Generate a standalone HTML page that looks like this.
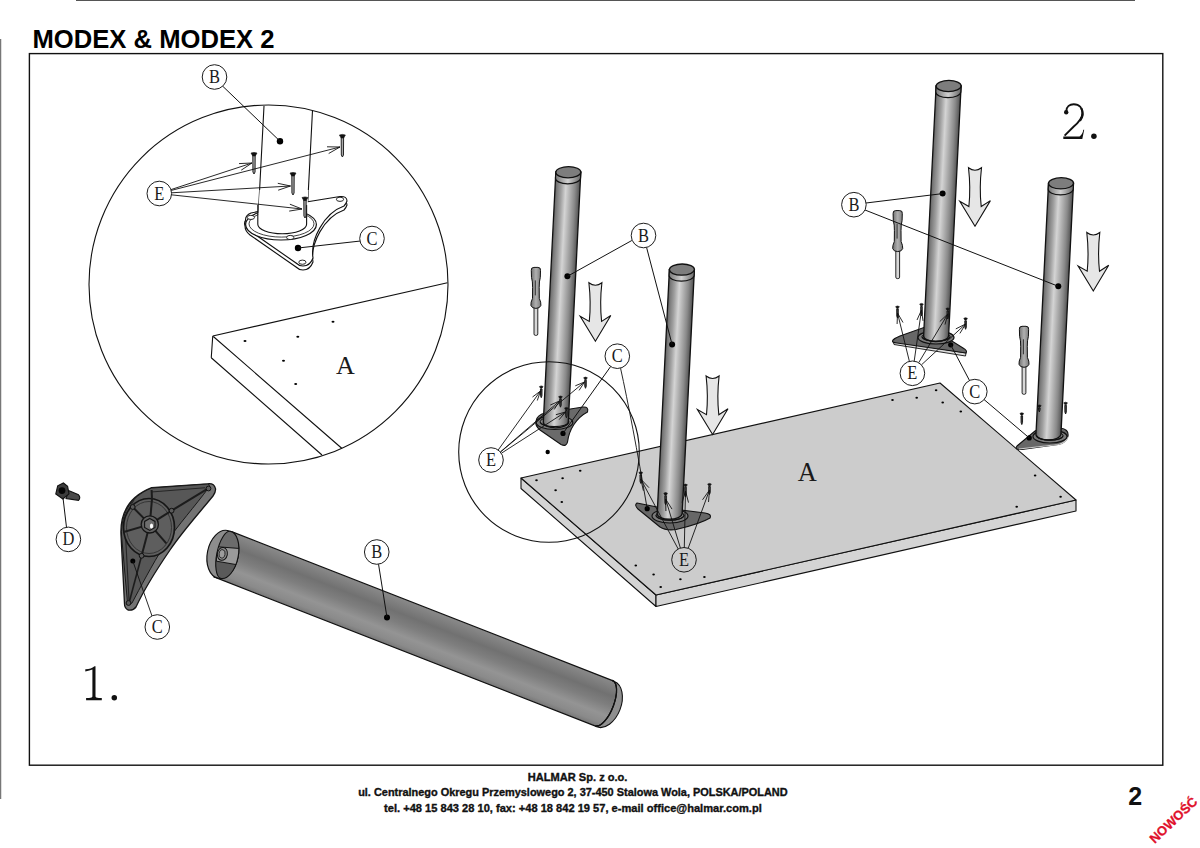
<!DOCTYPE html>
<html><head><meta charset="utf-8"><title>MODEX &amp; MODEX 2</title>
<style>html,body{margin:0;padding:0;background:#fff;width:1200px;height:848px;overflow:hidden}svg{display:block}
</style></head>
<body><svg width="1200" height="848" viewBox="0 0 1200 848">
<defs>
<linearGradient id="legg" x1="0" y1="0" x2="1" y2="0">
<stop offset="0" stop-color="#5e5e5e"/><stop offset="0.08" stop-color="#7a7a7a"/><stop offset="0.25" stop-color="#a0a0a0"/>
<stop offset="0.43" stop-color="#d4d4d4"/><stop offset="0.6" stop-color="#b2b2b2"/><stop offset="0.8" stop-color="#8a8a8a"/><stop offset="0.93" stop-color="#666"/><stop offset="1" stop-color="#4a4a4a"/>
</linearGradient>
<linearGradient id="bandg" x1="0" y1="0" x2="1" y2="0">
<stop offset="0" stop-color="#777"/><stop offset="0.5" stop-color="#d0d0d0"/><stop offset="1" stop-color="#6a6a6a"/>
</linearGradient>
<linearGradient id="hcyl" x1="0" y1="0" x2="0" y2="1">
<stop offset="0" stop-color="#8a8a8a"/><stop offset="0.3" stop-color="#717171"/><stop offset="0.5" stop-color="#7e7e7e"/>
<stop offset="0.72" stop-color="#949494"/><stop offset="0.9" stop-color="#8a8a8a"/><stop offset="1" stop-color="#777"/>
</linearGradient>
<linearGradient id="sd" x1="0" y1="0" x2="1" y2="0">
<stop offset="0" stop-color="#6e6e6e"/><stop offset="0.5" stop-color="#b0b0b0"/><stop offset="1" stop-color="#7a7a7a"/>
</linearGradient>
</defs>
<rect x="0" y="0" width="1200" height="848" fill="#fff"/>
<line x1="76" y1="0.5" x2="1135" y2="0.5" stroke="#555" stroke-width="1.2"/>
<line x1="0.6" y1="39" x2="0.6" y2="799" stroke="#777" stroke-width="1.3"/>
<text x="32.5" y="47.8" font-family="Liberation Sans, sans-serif" font-weight="bold" font-size="25" fill="#000" textLength="242" lengthAdjust="spacingAndGlyphs">MODEX &amp; MODEX 2</text>
<rect x="29.4" y="53.6" width="1133.4" height="711.6" fill="none" stroke="#111" stroke-width="1.4"/>
<circle cx="268.5" cy="284.5" r="179.5" fill="none" stroke="#111" stroke-width="1.1"/>
<path d="M212.75,336 L447.4,282.7 M212.75,336 L211.25,357.75 M212.75,336 L342,448.5 M211.25,357.75 L322,455" fill="none" stroke="#111" stroke-width="1.1"/>
<ellipse cx="245" cy="341" rx="1.5" ry="1.1" fill="#000"/>
<ellipse cx="297.8" cy="336.75" rx="1.5" ry="1.1" fill="#000"/>
<ellipse cx="333" cy="321.75" rx="1.5" ry="1.1" fill="#000"/>
<ellipse cx="283.5" cy="360.75" rx="1.5" ry="1.1" fill="#000"/>
<ellipse cx="295.7" cy="384" rx="1.5" ry="1.1" fill="#000"/>
<text x="345.5" y="373.8" font-family="Liberation Serif, serif" font-size="26" text-anchor="middle" fill="#1a1a1a">A</text>
<path d="M264,106 L257.8,224.3 M312.5,110.5 L306.6,224.3" fill="none" stroke="#111" stroke-width="1.1"/>
<path d="M245,226 Q243,220 250,217 L300,207 L340,200.5 Q347,200 347,205 Q346,208 344,210 C324,217 310,244 313,262 Q310,270 303,270 Q299,270 296,267 L250,235 Q245,231 245,226 Z" fill="#fff" stroke="#111" stroke-width="1.1"/>
<path d="M246,222 Q244,216 251,213 L300,203 L340,196.5 Q347,196 347,201 Q346,204 344,206 C324,213 310,240 313,258 Q310,266 303,266 Q299,266 296,263 L250,231 Q245,227 246,222 Z" fill="#fff" stroke="#111" stroke-width="1.1"/>
<ellipse cx="281" cy="224.5" rx="35.4" ry="15.5" fill="#fff" stroke="#111" stroke-width="1.2"/>
<ellipse cx="281.5" cy="223.8" rx="32.5" ry="13.3" fill="none" stroke="#111" stroke-width="0.8"/>
<path d="M259.6,190 L257.8,224.3 A24.4,9.5 0 0 0 306.6,224.3 L308.4,190 Z" fill="#fff" stroke="none"/>
<path d="M257.8,205 L257.8,224.3 A24.4,9.5 0 0 0 306.6,224.3 L306.6,205" fill="none" stroke="#111" stroke-width="1.1"/>
<ellipse cx="250.9" cy="217.4" rx="3.6" ry="2.1" fill="#fff" stroke="#111" stroke-width="0.9"/>
<ellipse cx="290.2" cy="237.5" rx="3.6" ry="2.1" fill="#fff" stroke="#111" stroke-width="0.9"/>
<ellipse cx="302.4" cy="262.2" rx="3.6" ry="2.1" fill="#fff" stroke="#111" stroke-width="0.9"/>
<ellipse cx="340" cy="199.3" rx="3.6" ry="2.1" fill="#fff" stroke="#111" stroke-width="0.9"/>
<path d="M252.8,155.5 L252.92,172 L254,174 L255.08,172 L255.2,155.5 Z" fill="#aaa" stroke="#111" stroke-width="0.9"/>
<path d="M251,153 Q254,151.8 257,153 L255.29,156 L252.71,156 Z" fill="#111" stroke="#111" stroke-width="0.6"/>
<path d="M341.2,137.5 L341.32,155 L342.4,157 L343.47999999999996,155 L343.59999999999997,137.5 Z" fill="#aaa" stroke="#111" stroke-width="0.9"/>
<path d="M339.4,135 Q342.4,133.8 345.4,135 L343.69,138 L341.10999999999996,138 Z" fill="#111" stroke="#111" stroke-width="0.6"/>
<path d="M291.8,175.5 L291.92,193 L293,195 L294.08,193 L294.2,175.5 Z" fill="#aaa" stroke="#111" stroke-width="0.9"/>
<path d="M290,173 Q293,171.8 296,173 L294.29,176 L291.71,176 Z" fill="#111" stroke="#111" stroke-width="0.6"/>
<path d="M303.8,200.0 L303.92,216 L305,218 L306.08,216 L306.2,200.0 Z" fill="#aaa" stroke="#111" stroke-width="0.9"/>
<path d="M302,197.5 Q305,196.3 308,197.5 L306.29,200.5 L303.71,200.5 Z" fill="#111" stroke="#111" stroke-width="0.6"/>
<line x1="170.7" y1="189.7" x2="252" y2="163" stroke="#111" stroke-width="0.9"/>
<line x1="252" y1="163" x2="241.2" y2="170.2" stroke="#111" stroke-width="0.9"/>
<line x1="252" y1="163" x2="239.0" y2="163.6" stroke="#111" stroke-width="0.9"/>
<line x1="170.9" y1="190.5" x2="340" y2="147" stroke="#111" stroke-width="0.9"/>
<line x1="340" y1="147" x2="328.7" y2="153.5" stroke="#111" stroke-width="0.9"/>
<line x1="340" y1="147" x2="327.0" y2="146.8" stroke="#111" stroke-width="0.9"/>
<line x1="171.3" y1="192.8" x2="290.5" y2="186" stroke="#111" stroke-width="0.9"/>
<line x1="290.5" y1="186" x2="278.2" y2="190.2" stroke="#111" stroke-width="0.9"/>
<line x1="290.5" y1="186" x2="277.8" y2="183.3" stroke="#111" stroke-width="0.9"/>
<line x1="171.2" y1="194.8" x2="302" y2="209" stroke="#111" stroke-width="0.9"/>
<line x1="302" y1="209" x2="289.2" y2="211.1" stroke="#111" stroke-width="0.9"/>
<line x1="302" y1="209" x2="289.9" y2="204.2" stroke="#111" stroke-width="0.9"/>
<circle cx="159.3" cy="193.5" r="12.3" fill="#fff" stroke="#111" stroke-width="0.95"/>
<text transform="translate(159.3,199.5) scale(0.9,1)" x="0" y="0" font-family="Liberation Serif, serif" font-size="18.3" text-anchor="middle" fill="#1a1a1a">E</text>
<circle cx="280" cy="141.2" r="3.2" fill="#000"/>
<line x1="222.5" y1="86" x2="280" y2="141.2" stroke="#111" stroke-width="1.0"/>
<circle cx="214.5" cy="77" r="12.3" fill="#fff" stroke="#111" stroke-width="0.95"/>
<text transform="translate(214.5,83.0) scale(0.9,1)" x="0" y="0" font-family="Liberation Serif, serif" font-size="18.3" text-anchor="middle" fill="#1a1a1a">B</text>
<circle cx="298" cy="248" r="3.2" fill="#000"/>
<line x1="298" y1="248" x2="360.5" y2="241" stroke="#111" stroke-width="1.0"/>
<circle cx="372" cy="238.5" r="12.3" fill="#fff" stroke="#111" stroke-width="0.95"/>
<text transform="translate(372,244.5) scale(0.9,1)" x="0" y="0" font-family="Liberation Serif, serif" font-size="18.3" text-anchor="middle" fill="#1a1a1a">C</text>
<path d="M68.5,490.5 L78.5,494.8 Q81,497.5 78.5,500.3 L66,498.5 Z" fill="#4a4a4a" stroke="#111" stroke-width="1.1"/>
<polygon points="55.8,493.9 57.7,485.8 63.4,483 67.6,486.3 69,493.9 62.9,499" fill="#3c3c3c" stroke="#111" stroke-width="1.1"/>
<circle cx="62" cy="490.6" r="3.4" fill="#050505"/>
<line x1="63.1" y1="498.6" x2="66.5" y2="527.4" stroke="#111" stroke-width="1.0"/>
<circle cx="68.4" cy="539.4" r="12.3" fill="#fff" stroke="#111" stroke-width="0.95"/>
<text transform="translate(68.4,545.4) scale(0.9,1)" x="0" y="0" font-family="Liberation Serif, serif" font-size="18.3" text-anchor="middle" fill="#1a1a1a">D</text>
<path d="M151.7,487.7 L207.8,483.8 Q214,483 215.5,488.6 Q216,492 213,496 C200,512 182,532 170,550 C155,572 142,594 136,607 Q133,611 128,610 Q124.5,608 124.5,604 L121,535 C120,515 128,497 151.7,487.7 Z" fill="#737373" stroke="#151515" stroke-width="1.3"/>
<path d="M151.7,488 L207.8,484 Q211,484.5 208,488.5 C196,505 178,525 164.5,545 C152,565 140,588 132,603 Q129,606 127.5,603 L121.5,535 C121,515 129,497 151.7,488 Z" fill="#575757" stroke="#1a1a1a" stroke-width="1"/>
<path d="M151,492 L205,487.8 M134,500 C127,510 125,522 125.5,535 L129,600" fill="none" stroke="#262626" stroke-width="1.1"/>
<ellipse cx="149" cy="527.5" rx="25.5" ry="29" fill="#5e5e5e" stroke="#161616" stroke-width="1.7"/>
<ellipse cx="149" cy="527.5" rx="22.5" ry="26" fill="none" stroke="#2a2a2a" stroke-width="0.8"/>
<line x1="149.8" y1="524.4" x2="132.7" y2="507" stroke="#1c1c1c" stroke-width="2.0"/>
<line x1="149.8" y1="524.4" x2="171.6" y2="510.7" stroke="#1c1c1c" stroke-width="2.0"/>
<line x1="149.8" y1="524.4" x2="166.3" y2="543.4" stroke="#1c1c1c" stroke-width="2.0"/>
<line x1="149.8" y1="524.4" x2="141.6" y2="555.8" stroke="#1c1c1c" stroke-width="2.0"/>
<line x1="149.8" y1="524.4" x2="123.8" y2="532" stroke="#1c1c1c" stroke-width="2.0"/>
<line x1="149.8" y1="524.4" x2="152" y2="499" stroke="#1c1c1c" stroke-width="2.0"/>
<line x1="171.6" y1="510.7" x2="207.8" y2="488.6" stroke="#1c1c1c" stroke-width="2.0"/>
<line x1="151.6" y1="490" x2="152" y2="499" stroke="#1c1c1c" stroke-width="2.0"/>
<line x1="141.6" y1="555.8" x2="129" y2="603" stroke="#1c1c1c" stroke-width="1.6"/>
<circle cx="149.8" cy="524.4" r="8.6" fill="#606060" stroke="#151515" stroke-width="1.3"/>
<polygon points="149.8,518.4 155,521.4 155,527.4 149.8,530.4 144.6,527.4 144.6,521.4" fill="#6e6e6e" stroke="#151515" stroke-width="1.1"/>
<ellipse cx="151.5" cy="526" rx="1.6" ry="2.6" fill="#fff"/>
<circle cx="132.7" cy="507" r="2.4" fill="#5a5a5a" stroke="#111" stroke-width="1"/>
<circle cx="171.6" cy="510.7" r="2.4" fill="#5a5a5a" stroke="#111" stroke-width="1"/>
<circle cx="141.6" cy="555.8" r="2.4" fill="#5a5a5a" stroke="#111" stroke-width="1"/>
<circle cx="208.5" cy="488.5" r="2.4" fill="#5a5a5a" stroke="#111" stroke-width="1"/>
<circle cx="128.5" cy="603" r="2.4" fill="#5a5a5a" stroke="#111" stroke-width="1"/>
<circle cx="132.8" cy="561" r="2.5" fill="#000"/>
<line x1="132.8" y1="561" x2="152" y2="616" stroke="#111" stroke-width="0.9"/>
<circle cx="157.3" cy="627" r="12.3" fill="#fff" stroke="#111" stroke-width="0.95"/>
<text transform="translate(157.3,633.0) scale(0.9,1)" x="0" y="0" font-family="Liberation Serif, serif" font-size="18.3" text-anchor="middle" fill="#1a1a1a">C</text>
<g transform="translate(222.8,554.3) rotate(21.35)"><path d="M0,-24.3 L409,-24.3 A10,24.3 0 0 1 409,24.3 L0,24.3 Z" fill="url(#hcyl)" stroke="#111" stroke-width="1.2"/><path d="M408.5,-24.3 L411,-24 A15.5,24.3 0 0 1 411,24.6 L409.5,24.3 A10,24.3 0 0 0 408.5,-24.3 Z" fill="#8f8f8f" stroke="#111" stroke-width="1.1"/><path d="M408.5,-24.3 A10,24.3 0 0 1 409.5,24.3" fill="none" stroke="#111" stroke-width="1.2"/><g transform="rotate(-10)"><ellipse cx="0" cy="0" rx="15.5" ry="24.3" fill="#8d8d8d" stroke="#111" stroke-width="1.2"/><clipPath id="lens"><path d="M3,-24 A12.5,24 0 0 1 3,24 A9,24 0 0 1 3,-24 Z"/></clipPath><g clip-path="url(#lens)"><rect x="-10" y="-25" width="30" height="50" fill="#6c6c6c"/><rect x="-10" y="7" width="30" height="20" fill="#5a5a5a"/><polygon points="-7,-6.3 17,-9.2 17,7.4 -5,8" fill="#9a9a9a" stroke="#111" stroke-width="0.9"/></g><path d="M3,-24 A12.5,24 0 0 1 3,24 A9,24 0 0 1 3,-24 Z" fill="none" stroke="#111" stroke-width="1.1"/><ellipse cx="-0.5" cy="-0.3" rx="5" ry="6.5" fill="#8a8a8a" stroke="#111" stroke-width="1"/><ellipse cx="-0.8" cy="-0.3" rx="3" ry="4.2" fill="#9c9c9c" stroke="#111" stroke-width="0.8"/></g></g>
<circle cx="387" cy="617.6" r="3" fill="#000"/>
<line x1="387" y1="617.6" x2="378.5" y2="564" stroke="#111" stroke-width="1.0"/>
<circle cx="376.75" cy="552" r="12.3" fill="#fff" stroke="#111" stroke-width="0.95"/>
<text transform="translate(376.75,558.0) scale(0.9,1)" x="0" y="0" font-family="Liberation Serif, serif" font-size="18.3" text-anchor="middle" fill="#1a1a1a">B</text>
<path d="M85.3,669.3 L85.3,671.4 Q89.8,670.9 92.4,669.6 L92.4,696.2 Q92.4,697.9 89,697.9 L86.1,697.9 L86.1,700.2 L101.8,700.2 L101.8,697.9 L98.9,697.9 Q95.5,697.9 95.5,696.2 L95.5,666.3 L94.5,666.3 Q91,669.4 85.3,669.3 Z" fill="#111"/>
<circle cx="114.3" cy="697.7" r="2.75" fill="#111"/>
<path d="M1066.3,111.5 C1066.3,106.3 1069.9,104.3 1073.7,104.3 C1079.7,104.3 1082.4,108.3 1082.4,113.3 C1082.4,118.5 1078.6,122.5 1073.5,126.8 L1064.6,135.7" fill="none" stroke="#111" stroke-width="1.9"/>
<path d="M1081.3,108.3 C1083.3,112 1083,116.8 1080,120.8" fill="none" stroke="#111" stroke-width="2.1"/>
<circle cx="1066.2" cy="112.3" r="2.2" fill="#111"/>
<path d="M1063.3,136.4 L1063.3,138.9 L1082.3,138.9 L1084.2,129.8 L1083.3,129.8 Q1082.6,134.6 1079.5,136.4 Z" fill="#111"/>
<circle cx="1093.9" cy="136.2" r="2.75" fill="#111"/>
<polygon points="521,478 656,595 656,606.5 521,488.5" fill="#d4d4d4" stroke="#111" stroke-width="1.1" stroke-linejoin="round"/>
<polygon points="656,595 1076,500 1076,511 656,606.5" fill="#d4d4d4" stroke="#111" stroke-width="1.1" stroke-linejoin="round"/>
<polygon points="521,478 940,383 1076,500 656,595" fill="#cccccc" stroke="#111" stroke-width="1.1" stroke-linejoin="round"/>
<ellipse cx="892.5" cy="400" rx="1.3" ry="1" fill="#000"/>
<ellipse cx="916.7" cy="397.7" rx="1.3" ry="1" fill="#000"/>
<ellipse cx="936.1" cy="390.2" rx="1.3" ry="1" fill="#000"/>
<ellipse cx="942.7" cy="402.5" rx="1.3" ry="1" fill="#000"/>
<ellipse cx="960.8" cy="411.4" rx="1.3" ry="1" fill="#000"/>
<ellipse cx="1035.1" cy="475.6" rx="1.3" ry="1" fill="#000"/>
<ellipse cx="1060.6" cy="496.8" rx="1.3" ry="1" fill="#000"/>
<ellipse cx="1016.7" cy="506.7" rx="1.3" ry="1" fill="#000"/>
<ellipse cx="536.5" cy="480.3" rx="1.3" ry="1" fill="#000"/>
<ellipse cx="562.6" cy="478.2" rx="1.3" ry="1" fill="#000"/>
<ellipse cx="580.2" cy="470.8" rx="1.3" ry="1" fill="#000"/>
<ellipse cx="555.6" cy="490.3" rx="1.3" ry="1" fill="#000"/>
<ellipse cx="561.8" cy="502" rx="1.3" ry="1" fill="#000"/>
<ellipse cx="635.8" cy="565.6" rx="1.3" ry="1" fill="#000"/>
<ellipse cx="653.6" cy="574.5" rx="1.3" ry="1" fill="#000"/>
<ellipse cx="680.4" cy="579.2" rx="1.3" ry="1" fill="#000"/>
<ellipse cx="704.4" cy="577.1" rx="1.3" ry="1" fill="#000"/>
<ellipse cx="660.7" cy="587" rx="1.3" ry="1" fill="#000"/>
<text x="807.2" y="480.9" font-family="Liberation Serif, serif" font-size="26.4" text-anchor="middle" fill="#1a1a1a">A</text>
<path d="M893,341 L966,353 L965.5,356 L894,344.5 Z" fill="#dadada" stroke="#111" stroke-width="0.9"/>
<path d="M893,340 Q895,338 900,336 L928,326 L963,348 Q968,351 966,353 L897,343 Q891,342.5 893,340 Z" fill="#676767" stroke="#111" stroke-width="1.1"/>
<ellipse cx="936" cy="337.5" rx="18" ry="6.5" fill="#7a7a7a" stroke="#111" stroke-width="1.2"/>
<ellipse cx="936" cy="336.7" rx="14" ry="4.5" fill="#8a8a8a" stroke="#111" stroke-width="1"/>
<g transform="translate(948.6,86) skewX(-2.862)"><path d="M-12.5,0 L-12.5,250 A12.5,5.6 0 0 0 12.5,250 L12.5,0 Z" fill="url(#legg)" stroke="#111" stroke-width="1.3"/><path d="M-12.5,0 L-12.5,6 A12.5,5.6 0 0 0 12.5,6 L12.5,0 Z" fill="url(#bandg)" stroke="#111" stroke-width="1.2"/><ellipse cx="0" cy="0" rx="12.5" ry="5.6" fill="#7d7d7d" stroke="#111" stroke-width="1.3"/></g>
<path d="M922,336.7 A14,4.5 0 0 0 950,336.7" fill="none" stroke="#111" stroke-width="1.2"/>
<path d="M1017,446 L1035,431 Q1042,427 1050,428 L1060,428 Q1069,429 1068,436 Q1066,443 1058,444.5 L1022,449.5 Q1014,450 1017,446 Z" fill="#676767" stroke="#111" stroke-width="1.1"/>
<path d="M1019,449 L1058,444.5 Q1066,443 1068,437" fill="none" stroke="#ccc" stroke-width="1.2"/>
<ellipse cx="1050" cy="436.5" rx="17" ry="6.5" fill="#7a7a7a" stroke="#111" stroke-width="1.2"/>
<ellipse cx="1050" cy="435.7" rx="13" ry="4.5" fill="#8a8a8a" stroke="#111" stroke-width="1"/>
<g transform="translate(1061,183.3) skewX(-2.862)"><path d="M-12.5,0 L-12.5,251 A12.5,5.6 0 0 0 12.5,251 L12.5,0 Z" fill="url(#legg)" stroke="#111" stroke-width="1.3"/><path d="M-12.5,0 L-12.5,6 A12.5,5.6 0 0 0 12.5,6 L12.5,0 Z" fill="url(#bandg)" stroke="#111" stroke-width="1.2"/><ellipse cx="0" cy="0" rx="12.5" ry="5.6" fill="#7d7d7d" stroke="#111" stroke-width="1.3"/></g>
<path d="M1037,435.7 A13,4.5 0 0 0 1063,435.7" fill="none" stroke="#111" stroke-width="1.2"/>
<path d="M536,421 Q537,415 545,413 L583,407 Q589,406.5 587.5,412 C576,418 569,430 567.5,442 Q566.5,447 561,444.5 L540,430 Q535,426 536,421 Z" fill="#6a6a6a" stroke="#111" stroke-width="1.1"/>
<ellipse cx="554.5" cy="422.5" rx="18.3" ry="7" fill="#7a7a7a" stroke="#111" stroke-width="1.2"/>
<ellipse cx="554.5" cy="421.7" rx="14.3" ry="5" fill="#8a8a8a" stroke="#111" stroke-width="1"/>
<g transform="translate(568.3,172.2) skewX(-2.862)"><path d="M-12.5,0 L-12.5,250 A12.5,5.6 0 0 0 12.5,250 L12.5,0 Z" fill="url(#legg)" stroke="#111" stroke-width="1.3"/><path d="M-12.5,0 L-12.5,6 A12.5,5.6 0 0 0 12.5,6 L12.5,0 Z" fill="url(#bandg)" stroke="#111" stroke-width="1.2"/><ellipse cx="0" cy="0" rx="12.5" ry="5.6" fill="#7d7d7d" stroke="#111" stroke-width="1.3"/></g>
<path d="M540.2,421.7 A14.3,5 0 0 0 568.8,421.7" fill="none" stroke="#111" stroke-width="1.2"/>
<path d="M637,503 L657,507 L705,513 Q712,514 710,518 Q700,524 676,529.5 Q666,531 660,527 L638,509 Q634,505 637,503 Z" fill="#676767" stroke="#111" stroke-width="1.1"/>
<ellipse cx="670" cy="516" rx="18" ry="7" fill="#7a7a7a" stroke="#111" stroke-width="1.2"/>
<ellipse cx="670" cy="515.2" rx="14" ry="5" fill="#8a8a8a" stroke="#111" stroke-width="1"/>
<g transform="translate(681.9,269.6) skewX(-2.862)"><path d="M-12.5,0 L-12.5,244 A12.5,5.6 0 0 0 12.5,244 L12.5,0 Z" fill="url(#legg)" stroke="#111" stroke-width="1.3"/><path d="M-12.5,0 L-12.5,6 A12.5,5.6 0 0 0 12.5,6 L12.5,0 Z" fill="url(#bandg)" stroke="#111" stroke-width="1.2"/><ellipse cx="0" cy="0" rx="12.5" ry="5.6" fill="#7d7d7d" stroke="#111" stroke-width="1.3"/></g>
<path d="M656,515.2 A14,5 0 0 0 684,515.2" fill="none" stroke="#111" stroke-width="1.2"/>
<path d="M540.45,389.0 L540.53,395.7 L541.25,397.7 L541.97,395.7 L542.05,389.0 Z" fill="#444" stroke="#111" stroke-width="0.9"/>
<path d="M539.45,386.5 Q541.25,385.3 543.05,386.5 L542.024,388.3 L540.476,388.3 Z" fill="#111" stroke="#111" stroke-width="0.6"/>
<path d="M584.7,380.2 L584.78,386.3 L585.5,388.3 L586.22,386.3 L586.3,380.2 Z" fill="#444" stroke="#111" stroke-width="0.9"/>
<path d="M583.7,377.7 Q585.5,376.5 587.3,377.7 L586.274,379.5 L584.726,379.5 Z" fill="#111" stroke="#111" stroke-width="0.6"/>
<path d="M559.7,399.1 L559.78,405.2 L560.5,407.2 L561.22,405.2 L561.3,399.1 Z" fill="#444" stroke="#111" stroke-width="0.9"/>
<path d="M558.7,396.6 Q560.5,395.40000000000003 562.3,396.6 L561.274,398.40000000000003 L559.726,398.40000000000003 Z" fill="#111" stroke="#111" stroke-width="0.6"/>
<path d="M565.6,410.5 L565.68,415.8 L566.4,417.8 L567.12,415.8 L567.1999999999999,410.5 Z" fill="#444" stroke="#111" stroke-width="0.9"/>
<path d="M564.6,408 Q566.4,406.8 568.1999999999999,408 L567.174,409.8 L565.626,409.8 Z" fill="#111" stroke="#111" stroke-width="0.6"/>
<path d="M639.95,474.9 L640.03,481.4 L640.75,483.4 L641.47,481.4 L641.55,474.9 Z" fill="#444" stroke="#111" stroke-width="0.9"/>
<path d="M638.95,472.4 Q640.75,471.2 642.55,472.4 L641.524,474.2 L639.976,474.2 Z" fill="#111" stroke="#111" stroke-width="0.6"/>
<path d="M664.8000000000001,495.7 L664.88,502.8 L665.6,504.8 L666.32,502.8 L666.4,495.7 Z" fill="#444" stroke="#111" stroke-width="0.9"/>
<path d="M663.8000000000001,493.2 Q665.6,492.0 667.4,493.2 L666.374,495.0 L664.826,495.0 Z" fill="#111" stroke="#111" stroke-width="0.6"/>
<path d="M684.7,487.2 L684.78,495 L685.5,497 L686.22,495 L686.3,487.2 Z" fill="#444" stroke="#111" stroke-width="0.9"/>
<path d="M683.7,484.7 Q685.5,483.5 687.3,484.7 L686.274,486.5 L684.726,486.5 Z" fill="#111" stroke="#111" stroke-width="0.6"/>
<path d="M708.7,486.5 L708.78,492.5 L709.5,494.5 L710.22,492.5 L710.3,486.5 Z" fill="#444" stroke="#111" stroke-width="0.9"/>
<path d="M707.7,484 Q709.5,482.8 711.3,484 L710.274,485.8 L708.726,485.8 Z" fill="#111" stroke="#111" stroke-width="0.6"/>
<path d="M896.7,309.1 L896.78,316 L897.5,318 L898.22,316 L898.3,309.1 Z" fill="#444" stroke="#111" stroke-width="0.9"/>
<path d="M895.7,306.6 Q897.5,305.40000000000003 899.3,306.6 L898.274,308.40000000000003 L896.726,308.40000000000003 Z" fill="#111" stroke="#111" stroke-width="0.6"/>
<path d="M920.7,306.5 L920.78,314 L921.5,316 L922.22,314 L922.3,306.5 Z" fill="#444" stroke="#111" stroke-width="0.9"/>
<path d="M919.7,304 Q921.5,302.8 923.3,304 L922.274,305.8 L920.726,305.8 Z" fill="#111" stroke="#111" stroke-width="0.6"/>
<path d="M947.0,311.0 L947.0799999999999,317 L947.8,319 L948.52,317 L948.5999999999999,311.0 Z" fill="#444" stroke="#111" stroke-width="0.9"/>
<path d="M946.0,308.5 Q947.8,307.3 949.5999999999999,308.5 L948.574,310.3 L947.026,310.3 Z" fill="#111" stroke="#111" stroke-width="0.6"/>
<path d="M964.8000000000001,320.8 L964.88,327.3 L965.6,329.3 L966.32,327.3 L966.4,320.8 Z" fill="#444" stroke="#111" stroke-width="0.9"/>
<path d="M963.8000000000001,318.3 Q965.6,317.1 967.4,318.3 L966.374,320.1 L964.826,320.1 Z" fill="#111" stroke="#111" stroke-width="0.6"/>
<path d="M1021.0,415.9 L1021.0799999999999,422.6 L1021.8,424.6 L1022.52,422.6 L1022.5999999999999,415.9 Z" fill="#444" stroke="#111" stroke-width="0.9"/>
<path d="M1020.0,413.4 Q1021.8,412.2 1023.5999999999999,413.4 L1022.574,415.2 L1021.026,415.2 Z" fill="#111" stroke="#111" stroke-width="0.6"/>
<path d="M1064.8,405.3 L1064.8799999999999,412 L1065.6,414 L1066.32,412 L1066.3999999999999,405.3 Z" fill="#444" stroke="#111" stroke-width="0.9"/>
<path d="M1063.8,402.8 Q1065.6,401.6 1067.3999999999999,402.8 L1066.3739999999998,404.6 L1064.826,404.6 Z" fill="#111" stroke="#111" stroke-width="0.6"/>
<path d="M1038.5,408.0 L1038.58,410 L1039.3,412 L1040.02,410 L1040.1,408.0 Z" fill="#444" stroke="#111" stroke-width="0.9"/>
<path d="M1037.5,405.5 Q1039.3,404.3 1041.1,405.5 L1040.0739999999998,407.3 L1038.526,407.3 Z" fill="#111" stroke="#111" stroke-width="0.6"/>
<line x1="498.2" y1="450.0" x2="540.5" y2="391" stroke="#111" stroke-width="0.9"/>
<line x1="540.5" y1="391" x2="537.3" y2="400.5" stroke="#111" stroke-width="0.9"/>
<line x1="540.5" y1="391" x2="532.5" y2="397.0" stroke="#111" stroke-width="0.9"/>
<line x1="500.4" y1="452.1" x2="584.5" y2="382" stroke="#111" stroke-width="0.9"/>
<line x1="584.5" y1="382" x2="579.1" y2="390.4" stroke="#111" stroke-width="0.9"/>
<line x1="584.5" y1="382" x2="575.3" y2="385.8" stroke="#111" stroke-width="0.9"/>
<line x1="500.3" y1="452.0" x2="559.5" y2="401" stroke="#111" stroke-width="0.9"/>
<line x1="559.5" y1="401" x2="554.2" y2="409.5" stroke="#111" stroke-width="0.9"/>
<line x1="559.5" y1="401" x2="550.3" y2="405.0" stroke="#111" stroke-width="0.9"/>
<line x1="501.3" y1="453.3" x2="565.5" y2="412" stroke="#111" stroke-width="0.9"/>
<line x1="565.5" y1="412" x2="559.1" y2="419.7" stroke="#111" stroke-width="0.9"/>
<line x1="565.5" y1="412" x2="555.9" y2="414.7" stroke="#111" stroke-width="0.9"/>
<circle cx="491" cy="460" r="12.3" fill="#fff" stroke="#111" stroke-width="0.95"/>
<text transform="translate(491,466.0) scale(0.9,1)" x="0" y="0" font-family="Liberation Serif, serif" font-size="18.3" text-anchor="middle" fill="#1a1a1a">E</text>
<line x1="678.2" y1="549.0" x2="640.75" y2="479" stroke="#111" stroke-width="0.9"/>
<line x1="640.75" y1="479" x2="649.0" y2="487.7" stroke="#111" stroke-width="0.9"/>
<line x1="640.75" y1="479" x2="643.4" y2="490.7" stroke="#111" stroke-width="0.9"/>
<line x1="680.4" y1="548.0" x2="665.6" y2="499" stroke="#111" stroke-width="0.9"/>
<line x1="665.6" y1="499" x2="672.0" y2="509.1" stroke="#111" stroke-width="0.9"/>
<line x1="665.6" y1="499" x2="665.9" y2="511.0" stroke="#111" stroke-width="0.9"/>
<line x1="684.3" y1="547.5" x2="685.5" y2="491" stroke="#111" stroke-width="0.9"/>
<line x1="685.5" y1="491" x2="688.5" y2="502.6" stroke="#111" stroke-width="0.9"/>
<line x1="685.5" y1="491" x2="682.1" y2="502.5" stroke="#111" stroke-width="0.9"/>
<line x1="688.2" y1="548.2" x2="709.5" y2="490" stroke="#111" stroke-width="0.9"/>
<line x1="709.5" y1="490" x2="708.5" y2="502.0" stroke="#111" stroke-width="0.9"/>
<line x1="709.5" y1="490" x2="702.5" y2="499.8" stroke="#111" stroke-width="0.9"/>
<circle cx="684" cy="559.8" r="12.3" fill="none" stroke="#111" stroke-width="0.95"/>
<text transform="translate(684,565.8) scale(0.9,1)" x="0" y="0" font-family="Liberation Serif, serif" font-size="18.3" text-anchor="middle" fill="#1a1a1a">E</text>
<line x1="909.4" y1="361.4" x2="897.5" y2="313" stroke="#111" stroke-width="0.9"/>
<line x1="897.5" y1="313" x2="903.0" y2="322.5" stroke="#111" stroke-width="0.9"/>
<line x1="897.5" y1="313" x2="897.1" y2="324.0" stroke="#111" stroke-width="0.9"/>
<line x1="914.2" y1="361.1" x2="921.5" y2="310" stroke="#111" stroke-width="0.9"/>
<line x1="921.5" y1="310" x2="923.0" y2="320.9" stroke="#111" stroke-width="0.9"/>
<line x1="921.5" y1="310" x2="917.0" y2="320.0" stroke="#111" stroke-width="0.9"/>
<line x1="918.7" y1="362.7" x2="947.8" y2="314" stroke="#111" stroke-width="0.9"/>
<line x1="947.8" y1="314" x2="945.0" y2="324.6" stroke="#111" stroke-width="0.9"/>
<line x1="947.8" y1="314" x2="939.8" y2="321.5" stroke="#111" stroke-width="0.9"/>
<line x1="921.4" y1="364.9" x2="965.6" y2="324" stroke="#111" stroke-width="0.9"/>
<line x1="965.6" y1="324" x2="959.9" y2="333.4" stroke="#111" stroke-width="0.9"/>
<line x1="965.6" y1="324" x2="955.8" y2="328.9" stroke="#111" stroke-width="0.9"/>
<circle cx="912.4" cy="373.3" r="12.3" fill="#fff" stroke="#111" stroke-width="0.95"/>
<text transform="translate(912.4,379.3) scale(0.9,1)" x="0" y="0" font-family="Liberation Serif, serif" font-size="18.3" text-anchor="middle" fill="#1a1a1a">E</text>
<path transform="translate(595.4,282.7) scale(1.000,1.000)" d="M-6.5,0 Q0,5 6.5,0 Q4.2,20 6.2,38.7 L15.4,32.8 L0,58.5 L-15.2,33.5 L-6.1,38.7 Q-4.2,20 -6.5,0 Z" fill="#e6e6e6" stroke="#111" stroke-width="1.1" stroke-linejoin="miter"/>
<path transform="translate(712.6,376) scale(1.000,1.000)" d="M-6.5,0 Q0,5 6.5,0 Q4.2,20 6.2,38.7 L15.4,32.8 L0,58.5 L-15.2,33.5 L-6.1,38.7 Q-4.2,20 -6.5,0 Z" fill="#e6e6e6" stroke="#111" stroke-width="1.1" stroke-linejoin="miter"/>
<path transform="translate(975,167.8) scale(1.000,1.000)" d="M-6.5,0 Q0,5 6.5,0 Q4.2,20 6.2,38.7 L15.4,32.8 L0,58.5 L-15.2,33.5 L-6.1,38.7 Q-4.2,20 -6.5,0 Z" fill="#e6e6e6" stroke="#111" stroke-width="1.1" stroke-linejoin="miter"/>
<path transform="translate(1093.3,232.5) scale(1.000,1.000)" d="M-6.5,0 Q0,5 6.5,0 Q4.2,20 6.2,38.7 L15.4,32.8 L0,58.5 L-15.2,33.5 L-6.1,38.7 Q-4.2,20 -6.5,0 Z" fill="#e6e6e6" stroke="#111" stroke-width="1.1" stroke-linejoin="miter"/>
<g transform="translate(535.9,267.4)"><rect x="-1.9" y="39" width="3.8" height="29" rx="1.5" fill="#d8d8d8" stroke="#111" stroke-width="0.9"/><path d="M-4.6,3 Q-5,0 -2,0 L2,0 Q5,0 4.6,3 L4.4,10 Q3.2,14 3.3,20 L3.4,31 Q5.3,35 5,38 Q4,41 0,41 Q-4,41 -5,38 Q-5.3,35 -3.4,31 L-3.3,20 Q-3.2,14 -4.4,10 Z" fill="url(#sd)" stroke="#111" stroke-width="1"/><line x1="-0.6" y1="13" x2="-0.6" y2="28" stroke="#222" stroke-width="0.9"/></g>
<g transform="translate(897.7,210.6)"><rect x="-1.9" y="39" width="3.8" height="29" rx="1.5" fill="#d8d8d8" stroke="#111" stroke-width="0.9"/><path d="M-4.6,3 Q-5,0 -2,0 L2,0 Q5,0 4.6,3 L4.4,10 Q3.2,14 3.3,20 L3.4,31 Q5.3,35 5,38 Q4,41 0,41 Q-4,41 -5,38 Q-5.3,35 -3.4,31 L-3.3,20 Q-3.2,14 -4.4,10 Z" fill="url(#sd)" stroke="#111" stroke-width="1"/><line x1="-0.6" y1="13" x2="-0.6" y2="28" stroke="#222" stroke-width="0.9"/></g>
<g transform="translate(1024,326.3)"><rect x="-1.9" y="39" width="3.8" height="29" rx="1.5" fill="#d8d8d8" stroke="#111" stroke-width="0.9"/><path d="M-4.6,3 Q-5,0 -2,0 L2,0 Q5,0 4.6,3 L4.4,10 Q3.2,14 3.3,20 L3.4,31 Q5.3,35 5,38 Q4,41 0,41 Q-4,41 -5,38 Q-5.3,35 -3.4,31 L-3.3,20 Q-3.2,14 -4.4,10 Z" fill="url(#sd)" stroke="#111" stroke-width="1"/><line x1="-0.6" y1="13" x2="-0.6" y2="28" stroke="#222" stroke-width="0.9"/></g>
<circle cx="567.4" cy="276.3" r="3" fill="#000"/>
<circle cx="672.1" cy="344.5" r="3" fill="#000"/>
<line x1="567.4" y1="276.3" x2="631.8" y2="240.5" stroke="#111" stroke-width="1.0"/>
<line x1="672.1" y1="344.5" x2="646.5" y2="247.2" stroke="#111" stroke-width="1.0"/>
<circle cx="643.5" cy="235.5" r="12.3" fill="#fff" stroke="#111" stroke-width="0.95"/>
<text transform="translate(643.5,241.5) scale(0.9,1)" x="0" y="0" font-family="Liberation Serif, serif" font-size="18.3" text-anchor="middle" fill="#1a1a1a">B</text>
<circle cx="942.6" cy="193.6" r="3" fill="#000"/>
<circle cx="1058.3" cy="286.3" r="3" fill="#000"/>
<line x1="942.6" y1="193.6" x2="866" y2="203" stroke="#111" stroke-width="1.0"/>
<line x1="1058.3" y1="286.3" x2="865" y2="210" stroke="#111" stroke-width="1.0"/>
<circle cx="853.9" cy="204.7" r="12.3" fill="#fff" stroke="#111" stroke-width="0.95"/>
<text transform="translate(853.9,210.7) scale(0.9,1)" x="0" y="0" font-family="Liberation Serif, serif" font-size="18.3" text-anchor="middle" fill="#1a1a1a">B</text>
<circle cx="563" cy="433.4" r="2.6" fill="#000"/>
<circle cx="647.2" cy="508.7" r="2.6" fill="#000"/>
<line x1="563" y1="433.4" x2="611" y2="366" stroke="#111" stroke-width="1.0"/>
<path d="M620.5,368 Q632,420 647.2,508.7" fill="none" stroke="#111" stroke-width="0.9"/>
<circle cx="617.3" cy="356.2" r="12.3" fill="#fff" stroke="#111" stroke-width="0.95"/>
<text transform="translate(617.3,362.2) scale(0.9,1)" x="0" y="0" font-family="Liberation Serif, serif" font-size="18.3" text-anchor="middle" fill="#1a1a1a">C</text>
<circle cx="950.7" cy="344.8" r="2.6" fill="#000"/>
<circle cx="1029.2" cy="437.9" r="2.6" fill="#000"/>
<line x1="950.7" y1="344.8" x2="969.5" y2="380.5" stroke="#111" stroke-width="1.0"/>
<line x1="1029.2" y1="437.9" x2="984" y2="399.5" stroke="#111" stroke-width="1.0"/>
<circle cx="974.8" cy="391.6" r="12.3" fill="#fff" stroke="#111" stroke-width="0.95"/>
<text transform="translate(974.8,397.6) scale(0.9,1)" x="0" y="0" font-family="Liberation Serif, serif" font-size="18.3" text-anchor="middle" fill="#1a1a1a">C</text>
<circle cx="549" cy="452" r="90.3" fill="none" stroke="#111" stroke-width="1.1"/>
<circle cx="547.7" cy="452" r="2.2" fill="#000"/>
<text x="577.6" y="780.7" font-family="Liberation Sans, sans-serif" font-weight="bold" fill="#111" stroke="#111" stroke-width="0.35" font-size="10.6" text-anchor="middle" textLength="99.7" lengthAdjust="spacingAndGlyphs">HALMAR Sp. z o.o.</text>
<text x="572.9" y="796.4" font-family="Liberation Sans, sans-serif" font-weight="bold" fill="#111" stroke="#111" stroke-width="0.35" font-size="10.6" text-anchor="middle" textLength="429.5" lengthAdjust="spacingAndGlyphs">ul. Centralnego Okregu Przemyslowego 2, 37-450 Stalowa Wola, POLSKA/POLAND</text>
<text x="572.9" y="811.75" font-family="Liberation Sans, sans-serif" font-weight="bold" fill="#111" stroke="#111" stroke-width="0.35" font-size="10.6" text-anchor="middle" textLength="377.7" lengthAdjust="spacingAndGlyphs">tel. +48 15 843 28 10, fax: +48 18 842 19 57, e-mail office@halmar.com.pl</text>
<text x="1128.3" y="804.6" font-family="Liberation Sans, sans-serif" font-weight="bold" font-size="25" fill="#111">2</text>
<text x="1154.8" y="844" transform="rotate(-43.6 1154.8 844)" font-family="Liberation Sans, sans-serif" font-weight="bold" font-size="13" fill="#e0102a" stroke="#e0102a" stroke-width="0.3">NOWOŚĆ</text>
</svg></body></html>
